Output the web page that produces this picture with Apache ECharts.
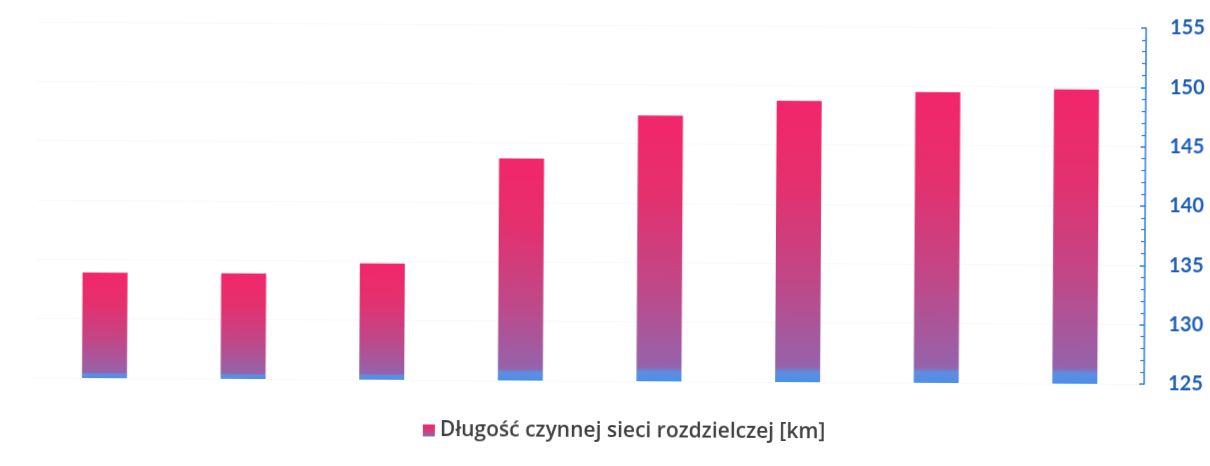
<!DOCTYPE html>
<html>
<head>
<meta charset="utf-8">
<script src="https://cdn.jsdelivr.net/npm/echarts@6/dist/echarts.min.js"></script>
<style>
  html, body { margin: 0; padding: 0; background: #ffffff; }
  #chart { width: 1210px; height: 466px; transform: rotate(0.33deg); transform-origin: 50% 50%; }
</style>
</head>
<body>
<div id="chart"></div>
<script>
// Series data
const categories = ['1', '2', '3', '4', '5', '6', '7', '8'];
const lengthKm = [133.9, 133.9, 134.8, 143.7, 147.4, 148.7, 149.5, 149.8];
const seriesName = 'Długość czynnej sieci rozdzielczej [km]';
const axisMin = 125;
const axisMax = 155;
const axisStep = 5;

const barGradient = new echarts.graphic.LinearGradient(0, 0, 0, 1, [
  { offset: 0, color: '#f2266a' },
  { offset: 0.3, color: '#e4306e' },
  { offset: 0.65, color: '#bf4888' },
  { offset: 0.945, color: '#9563aa' },
  { offset: 0.965, color: '#5f8de0' },
  { offset: 1, color: '#4a90ea' }
]);

const chart = echarts.init(document.getElementById('chart'), null, { renderer: 'canvas' });
chart.setOption({
  animation: false,
  backgroundColor: '#ffffff',
  grid: { left: 36, right: 65, top: 25, bottom: 85 },
  legend: {
    bottom: 19,
    left: 419,
    itemWidth: 12,
    itemHeight: 12,
    itemGap: 6,
    icon: 'rect',
    textStyle: { fontFamily: 'Open Sans', fontSize: 21, fontWeight: 600, color: '#3f3f3f' },
    data: [seriesName]
  },
  xAxis: {
    type: 'category',
    data: categories,
    axisLine: { show: false },
    axisTick: { show: false },
    axisLabel: { show: false }
  },
  yAxis: {
    type: 'value',
    position: 'right',
    min: axisMin,
    max: axisMax,
    interval: axisStep,
    axisLine: { show: true, lineStyle: { color: '#2f7fe0', width: 1.5 } },
    axisTick: { show: true, inside: true, length: 5, lineStyle: { color: '#2f7fe0', width: 1.5 } },
    minorTick: { show: true, splitNumber: 5, length: 4, lineStyle: { color: '#2f7fe0', width: 1.2 } },
    splitLine: { show: true, lineStyle: { color: '#f9f9f9', width: 1 } },
    axisLabel: {
      margin: 24,
      fontFamily: 'Lato',
      fontSize: 20,
      fontWeight: 'bold',
      color: '#1c5cb8'
    }
  },
  series: [{
    name: seriesName,
    type: 'bar',
    data: lengthKm,
    barWidth: 45,
    itemStyle: { color: barGradient }
  }]
});
</script>
</body>
</html>
